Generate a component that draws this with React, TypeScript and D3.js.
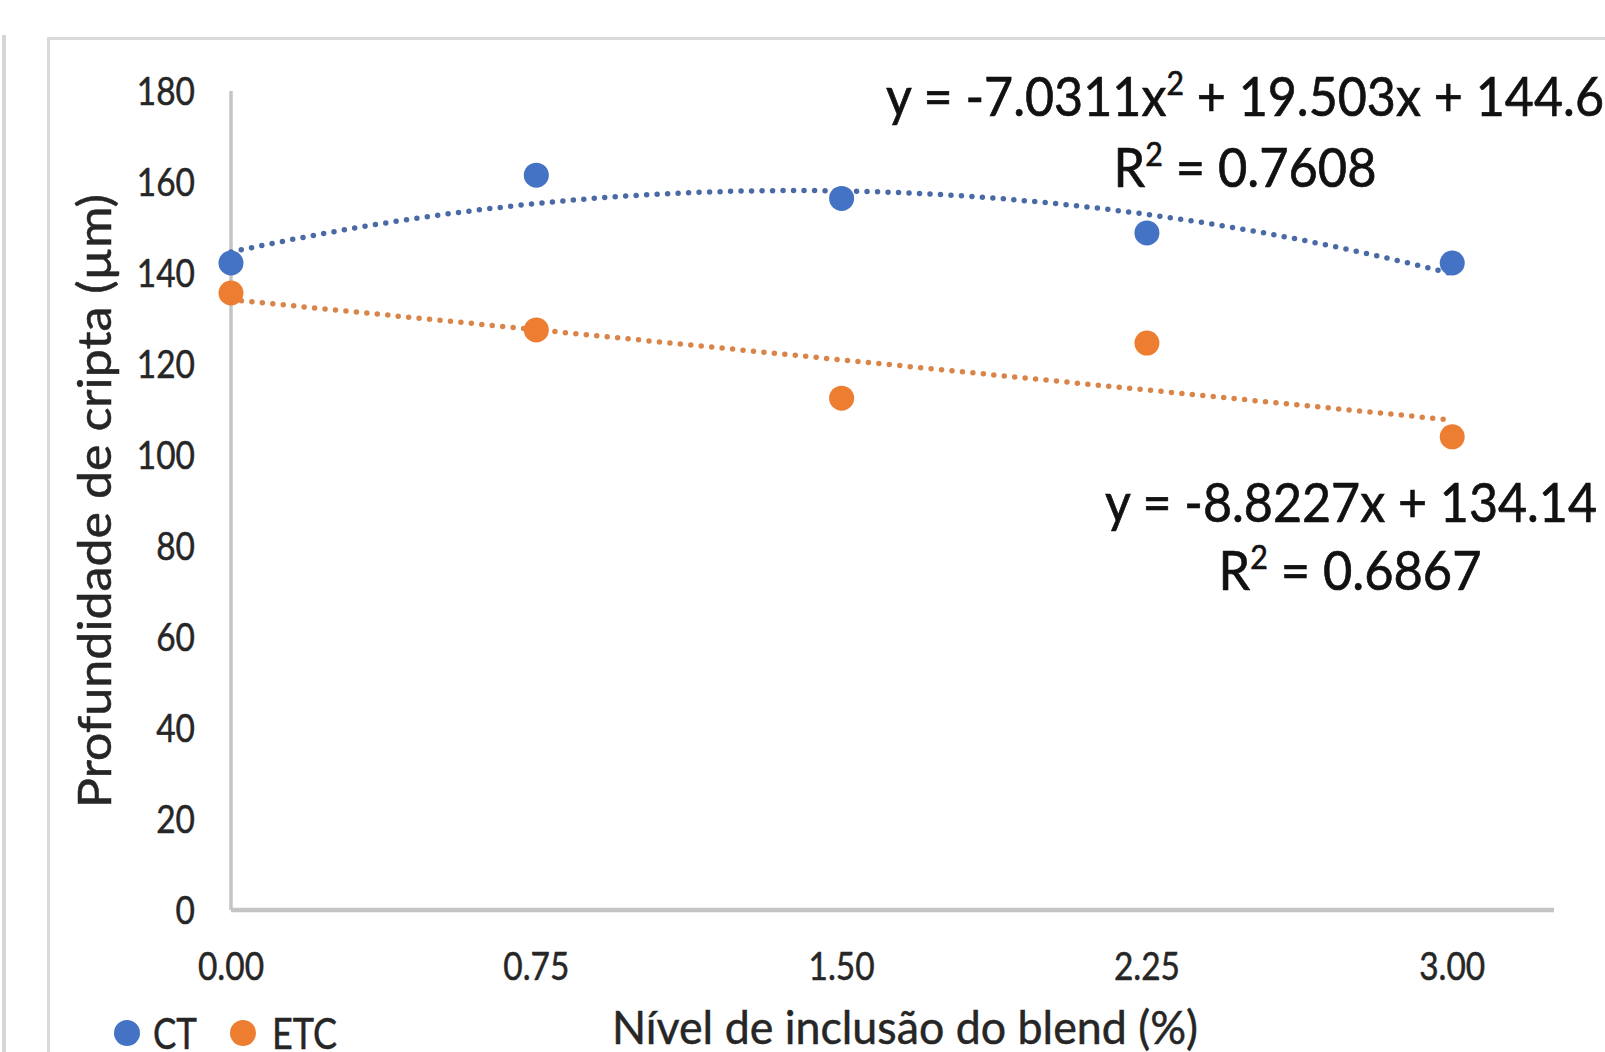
import React from "react";
import * as d3 from "d3";

const xValues = [0, 0.75, 1.5, 2.25, 3];
const ctValues = [142.2, 161.5, 156.4, 148.8, 142.2];
const etcValues = [135.6, 127.5, 112.5, 124.6, 104.0];
const yTicks = [0, 20, 40, 60, 80, 100, 120, 140, 160, 180];
const xTickLabels = ["0.00", "0.75", "1.50", "2.25", "3.00"];
const ctTrendCoef = [144.6, 19.503, -7.0311]; // c + b x + a x^2
const etcTrendCoef = [134.14, -8.8227];
const seriesNames = ["CT", "ETC"];
const yTitle = "Profundidade de cripta (µm)";
const xTitle = "Nível de inclusão do blend (%)";

const W = 1605;
const H = 1052;
const FONT = "Lato, 'Open Sans', sans-serif";
const BLUE = "#4472C4";
const ORANGE = "#ED7D31";
const BLUE_TREND = "#4a6aa6";
const ORANGE_TREND = "#d98549";

export default function App() {
  const x = d3.scaleLinear().domain([0, 3.25]).range([231, 1554]);
  const y = d3.scaleLinear().domain([0, 180]).range([910, 91]);

  const samples = d3.range(0, 3.0001, 0.03);
  const line = d3
    .line<number[]>()
    .x((d) => x(d[0]))
    .y((d) => y(d[1]))
    .curve(d3.curveLinear);
  const ctTrend = samples.map((v) => [
    v,
    ctTrendCoef[0] + ctTrendCoef[1] * v + ctTrendCoef[2] * v * v,
  ]);
  const etcTrend = samples.map((v) => [v, etcTrendCoef[0] + etcTrendCoef[1] * v]);

  const eqStyle = { stroke: "#111", strokeWidth: 0.7 };
  const lblStyle = { stroke: "#262626", strokeWidth: 0.5 };

  return (
    <svg
      width={W}
      height={H}
      style={{ position: "absolute", left: 0, top: 0, background: "#fff" }}
      fontFamily={FONT}
    >
      <rect x={0} y={0} width={W} height={H} fill="#fff" />
      {/* neighbouring panel edge */}
      <line x1={4} x2={4} y1={35} y2={H} stroke="#d6d6d6" strokeWidth={4} />
      {/* chart frame */}
      <rect x={48.5} y={38.5} width={W + 100} height={H + 100} fill="#fff" stroke="#dadada" strokeWidth={3} />

      {/* axes */}
      <line x1={x(0)} x2={x(0)} y1={y(180)} y2={y(0)} stroke="#c4c4c4" strokeWidth={3.5} />
      <line x1={x(0)} x2={x(3.25)} y1={y(0)} y2={y(0)} stroke="#c4c4c4" strokeWidth={4.5} />

      {/* y tick labels */}
      {yTicks.map((t) => (
        <text key={t} x={195} y={y(t)} dy="0.36em" textAnchor="end" fontSize={38} fill="#262626"
          style={lblStyle}
          transform={`translate(${195},0) scale(0.88,1) translate(${-195},0)`}>
          {t}
        </text>
      ))}
      {/* x tick labels */}
      {xValues.map((v, i) => (
        <text key={v} x={x(v)} y={980} textAnchor="middle" fontSize={38} fill="#262626"
          style={lblStyle}
          transform={`translate(${x(v)},0) scale(0.88,1) translate(${-x(v)},0)`}>
          {xTickLabels[i]}
        </text>
      ))}

      {/* trend lines */}
      <path d={line(ctTrend) || ""} fill="none" stroke={BLUE_TREND} strokeWidth={5.5}
        strokeDasharray="0 10.5" strokeLinecap="round" />
      <path d={line(etcTrend) || ""} fill="none" stroke={ORANGE_TREND} strokeWidth={5.5}
        strokeDasharray="0 10.5" strokeLinecap="round" />

      {/* points */}
      {xValues.map((v, i) => (
        <circle key={"ct" + i} cx={x(v)} cy={y(ctValues[i])} r={12.5} fill={BLUE} />
      ))}
      {xValues.map((v, i) => (
        <circle key={"etc" + i} cx={x(v)} cy={y(etcValues[i])} r={12.5} fill={ORANGE} />
      ))}

      {/* equations */}
      <text x={1245} y={116} textAnchor="middle" fontSize={55} fill="#111" style={eqStyle}
        textLength={718} lengthAdjust="spacingAndGlyphs">
        y = -7.0311x<tspan dy={-21} fontSize={33}>2</tspan>
        <tspan dy={21}> + 19.503x + 144.6</tspan>
      </text>
      <text x={1245} y={187} textAnchor="middle" fontSize={55} fill="#111" style={eqStyle}
        textLength={263} lengthAdjust="spacingAndGlyphs">
        R<tspan dy={-21} fontSize={33}>2</tspan>
        <tspan dy={21}> = 0.7608</tspan>
      </text>
      <text x={1351} y={522} textAnchor="middle" fontSize={55} fill="#111" style={eqStyle}
        textLength={492} lengthAdjust="spacingAndGlyphs">
        y = -8.8227x + 134.14
      </text>
      <text x={1350} y={590} textAnchor="middle" fontSize={55} fill="#111" style={eqStyle}
        textLength={263} lengthAdjust="spacingAndGlyphs">
        R<tspan dy={-21} fontSize={33}>2</tspan>
        <tspan dy={21}> = 0.6867</tspan>
      </text>

      {/* axis titles */}
      <text transform="translate(111,501) rotate(-90)" textAnchor="middle" fontSize={47} fill="#262626"
        style={lblStyle} textLength={614} lengthAdjust="spacingAndGlyphs">
        {yTitle}
      </text>
      <text x={905} y={1044} textAnchor="middle" fontSize={47} fill="#262626"
        style={lblStyle} textLength={586} lengthAdjust="spacingAndGlyphs">
        {xTitle}
      </text>

      {/* legend */}
      <circle cx={127} cy={1033} r={13} fill={BLUE} />
      <text x={153} y={1049} fontSize={43} fill="#262626" style={lblStyle} textLength={44} lengthAdjust="spacingAndGlyphs">
        {seriesNames[0]}
      </text>
      <circle cx={243} cy={1033} r={13} fill={ORANGE} />
      <text x={272} y={1049} fontSize={43} fill="#262626" style={lblStyle} textLength={65} lengthAdjust="spacingAndGlyphs">
        {seriesNames[1]}
      </text>
    </svg>
  );
}
